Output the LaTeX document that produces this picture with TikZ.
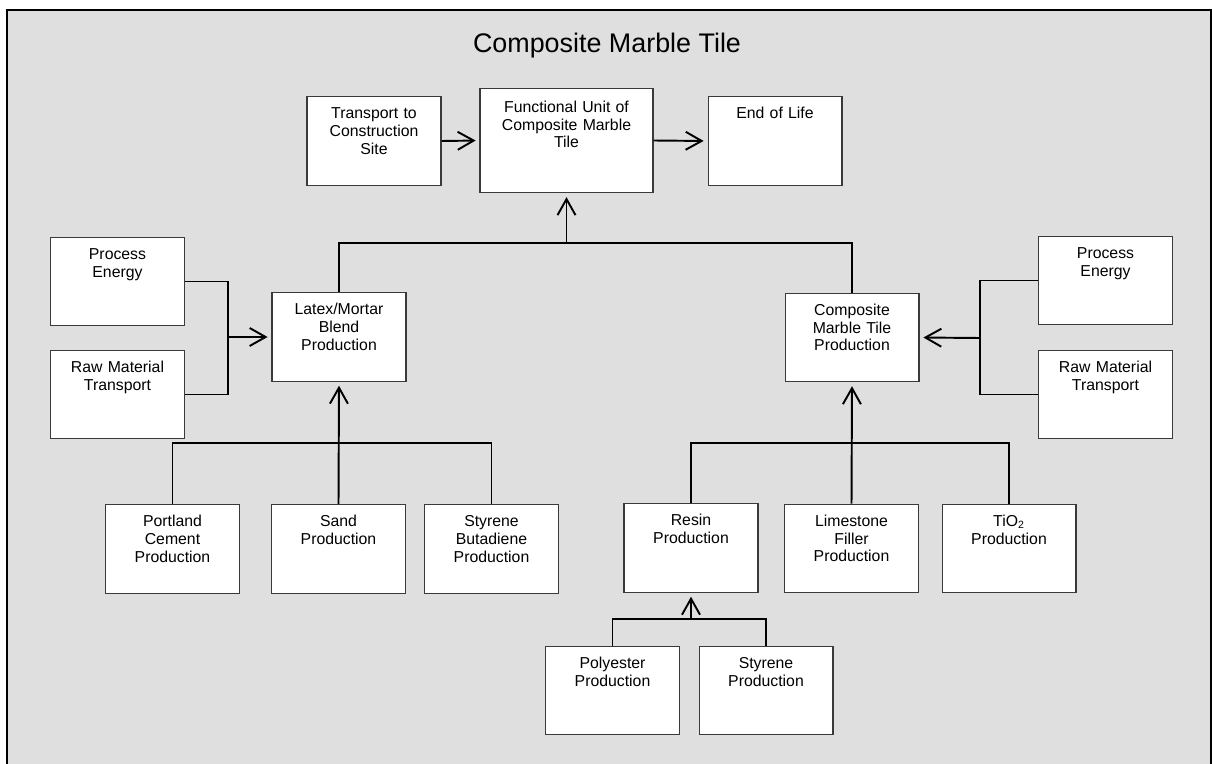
\documentclass[tikz,border=0pt]{standalone}
\usepackage{fontspec}
\setmainfont{Liberation Sans}
\usepackage{tikz}
\usetikzlibrary{arrows.meta, positioning, calc}
\definecolor{panelgray}{HTML}{DFDFDF}
\definecolor{boxedge}{HTML}{3A3A3A}
\newcommand{\cellfont}{\fontsize{9}{10.2}\selectfont}
\tikzset{
  proc/.style={draw=boxedge, fill=white, line width=0.6pt, inner sep=0pt,
               text width=2.68cm, align=center, font=\cellfont,
               text height=12.5pt, text depth=37.96pt},
  bigproc/.style={proc, text width=3.46cm, text height=13.6pt, text depth=45.9pt},
  link/.style={line width=1.1pt, color=black},
  flow/.style={link, -{Straight Barb[length=3.2mm, width=3.6mm]}, shorten >=2.2pt},
}

\begin{document}
\begin{tikzpicture}[x=0.02cm, y=-0.02cm]
  \useasboundingbox (0,0) rectangle (1212,763);
  % panel
  \fill[panelgray] (7,10) rectangle (1211,780);
  \draw[line width=1.2pt] (7,780) -- (7,10) -- (1211,10) -- (1211,780);
  \node[font=\fontsize{15.3}{18}\selectfont] (title) at (607,46) {Composite Marble Tile};

  % top row
  \node[proc] (trans) at (374,141) {Transport to\\Construction\\Site};
  \node[bigproc] (fu) at (566.5,140.5) {Functional Unit of\\Composite Marble\\Tile};
  \node[proc] (eol) at (775,141) {End of Life};

  % middle row
  \node[proc] (peL) at (117.5,281.5) {Process\\Energy};
  \node[proc] (rmtL) at (117.5,394.5) {Raw Material\\Transport};
  \node[proc] (latex) at (339,337) {Latex/Mortar\\Blend\\Production};
  \node[proc] (cmt) at (852,337.5) {Composite\\Marble Tile\\Production};
  \node[proc] (peR) at (1105.5,280.5) {Process\\Energy};
  \node[proc] (rmtR) at (1105.5,394.5) {Raw Material\\Transport};

  % lower row
  \node[proc] (portland) at (172.5,549) {Portland\\Cement\\Production};
  \node[proc] (sand) at (338.5,549) {Sand\\Production};
  \node[proc] (sbr) at (491.5,549) {Styrene\\Butadiene\\Production};
  \node[proc] (resin) at (691,548) {Resin\\Production};
  \node[proc] (lime) at (851.5,548.5) {Limestone\\Filler\\Production};
  \node[proc] (tio2) at (1009,548.5) {TiO\textsubscript{2}\\Production};

  % resin inputs
  \node[proc] (poly) at (612.5,690.5) {Polyester\\Production};
  \node[proc] (sty) at (766,690.5) {Styrene\\Production};

  % junctions
  \coordinate (jTop) at (566.5,243);
  \coordinate (jL) at (228,337);
  \coordinate (jR) at (980,338);
  \coordinate (jLB) at (338.5,443);
  \coordinate (jRB) at (851.5,443);
  \coordinate (jRes) at (691,619);

  % connectors
  \draw[flow] (trans.east) -- (fu.west);
  \draw[flow] (fu.east) -- (eol.west);
  \draw[link] (latex.north) |- (jTop) -| (cmt.north);
  \draw[flow] (jTop) -- (fu.south);
  \draw[link] (peL.east) -| (jL) |- (rmtL.east);
  \draw[flow] (jL) -- (latex.west);
  \draw[link] (peR.west) -| (jR) |- (rmtR.west);
  \draw[flow] (jR) -- (cmt.east);
  \draw[link] (portland.north) |- (jLB) -| (sbr.north);
  \draw[flow] (sand.north) -- (latex.south);
  \draw[link] (resin.north) |- (jRB) -| (tio2.north);
  \draw[flow] (lime.north) -- (cmt.south);
  \draw[link] (poly.north) |- (jRes) -| (sty.north);
  \draw[flow] (jRes) -- (resin.south);
\end{tikzpicture}
\end{document}
